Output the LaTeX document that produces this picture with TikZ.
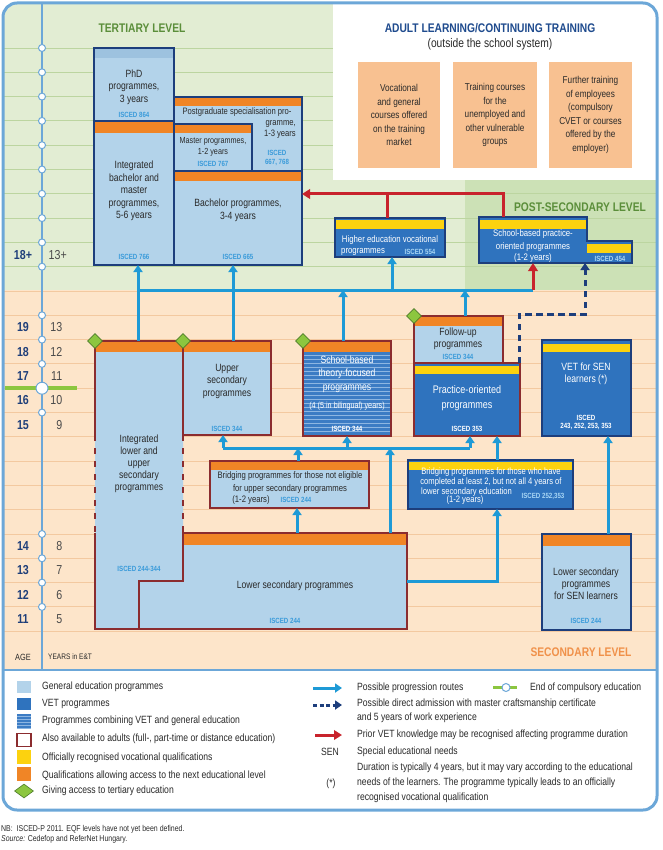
\documentclass[tikz,border=0pt]{standalone}
\usepackage{fontspec}
\setmainfont{Liberation Sans}[FakeStretch=0.82]
\usetikzlibrary{arrows.meta,shapes.geometric,fit}
\definecolor{genblue}{HTML}{B3D3EA}
\definecolor{vetblue}{HTML}{2F73BE}
\definecolor{navy}{HTML}{1D3E7C}
\definecolor{dred}{HTML}{8B2C2F}
\definecolor{orangeband}{HTML}{F08526}
\definecolor{yellowband}{HTML}{FCD20F}
\definecolor{diamondgreen}{HTML}{8CC63F}
\definecolor{diamondedge}{HTML}{4E7D2A}
\definecolor{arrowblue}{HTML}{1E9AD6}
\definecolor{redarrow}{HTML}{C8232C}
\definecolor{bggreen}{HTML}{E2EDD3}
\definecolor{bgpost}{HTML}{CCE1B6}
\definecolor{bgpeach}{HTML}{FDE5CA}
\definecolor{gridgreen}{HTML}{BCD5A0}
\definecolor{gridpeach}{HTML}{F3C9A0}
\definecolor{framebl}{HTML}{6CA7D8}
\definecolor{iscedbl}{HTML}{3A9BDA}
\definecolor{iscedlt}{HTML}{A8D6F5}
\definecolor{adultor}{HTML}{F8C191}
\definecolor{titlegreen}{HTML}{5B8E3A}
\definecolor{titleorange}{HTML}{F0914A}
\definecolor{titleblue}{HTML}{1F4B8E}
\definecolor{txt}{HTML}{2A2A2A}
\definecolor{phdtop}{HTML}{9DC2DF}
\definecolor{stripecol}{HTML}{8DB6E2}
\definecolor{sbtblue}{HTML}{3C7CC4}
\definecolor{agecol}{HTML}{1F3F7A}
\tikzset{
  pfill/.style={inner sep=0pt, outer sep=0pt},
  navyb/.style={draw=navy, line width=2.2pt},
  redb/.style={draw=dred, line width=2.2pt},
  bt/.style={font=\fontsize{10.5}{12.5}\selectfont, align=center, text=txt, inner sep=0pt},
  wt/.style={bt, text=white},
  isc/.style={font=\fontsize{7.5}{8.5}\selectfont\bfseries, text=iscedbl, inner sep=0pt, align=center},
  iscw/.style={isc, text=white},
  iscl/.style={isc, text=iscedlt},
  bline/.style={draw=arrowblue, line width=3pt},
  barrow/.style={bline, -{Triangle[width=9pt,length=7pt]}},
  rline/.style={draw=redarrow, line width=3pt},
  rarrow/.style={rline, -{Triangle[width=9.5pt,length=8pt]}},
  darrow/.style={draw=navy, line width=3pt, dash pattern=on 6.5pt off 4.5pt, -{Triangle[width=9pt,length=7pt]}},
  gdia/.style={diamond, fill=diamondgreen, draw=diamondedge, line width=0.6pt, minimum width=15pt, minimum height=15pt, inner sep=0pt},
  adtxt/.style={font=\fontsize{10}{13.5}\selectfont, align=center, text=txt, inner sep=0pt},
  agen/.style={font=\fontsize{13}{14}\selectfont\bfseries, text=agecol, inner sep=0pt},
  yrn/.style={font=\fontsize{13}{14}\selectfont, text=txt!85, inner sep=0pt, anchor=east},
  legt/.style={font=\fontsize{10.5}{12}\selectfont, text=txt, anchor=west, inner sep=0pt},
  legsq/.style={minimum width=14pt, minimum height=12.5pt, inner sep=0pt},
  lvl/.style={font=\fontsize{12.5}{14}\selectfont\bfseries, inner sep=0pt},
  gridg/.style={draw=gridgreen, line width=0.9pt},
  gridp/.style={draw=gridpeach, line width=0.9pt},
  agecirc/.style={circle, draw=framebl, fill=white, line width=1pt, inner sep=0pt, minimum size=7pt},
}
\begin{document}
\begin{tikzpicture}[x=1pt,y=-1pt]
\useasboundingbox (0,0) rectangle (662,850);
% ---------- backgrounds
\begin{scope}
\clip[rounded corners=14pt] (3,3) rectangle (657,810);
\fill[bggreen] (0,0) rectangle (662,290);
\fill[white] (333,0) rectangle (662,180);
\fill[bgpost] (465,180) rectangle (662,290);
\fill[bgpeach] (0,290) rectangle (662,670);
\fill[white] (0,670) rectangle (662,812);
\foreach \k in {0,1,2,3,4,5} \draw[gridg] (3,{48+24.3*\k}) -- (333,{48+24.3*\k});
\foreach \k in {6,7,8,9} \draw[gridg] (3,{48+24.3*\k}) -- (657,{48+24.3*\k});
\foreach \k in {10,...,24} \draw[gridp] (3,{48+24.3*\k}) -- (657,{48+24.3*\k});
\end{scope}
\draw[framebl, line width=3pt, rounded corners=14pt] (3,3) rectangle (657,810);
\draw[framebl, line width=2.5pt] (3,670) -- (657,670);
% ---------- age axis
\draw[diamondgreen, line width=3.5pt] (5,388.2) -- (77,388.2);
\draw[framebl, line width=2.5pt] (42,3) -- (42,670);
\foreach \k in {0,1,2,3,4,5,6,7,8,9,11,12,13,15,20,21,22,23}
  \node[agecirc] (c\k) at (42,{48+24.3*\k}) {};
\node[agecirc, minimum size=12pt] (c14) at (42,388.2) {};
\node[agen] (a18p) at (23,254.6) {18+};
\node[yrn] (y13p) at (67,254.6) {13+};
\node[agen] (a19) at (23,327.5) {19}; \node[yrn] (y13) at (62.5,327.5) {13};
\node[agen] (a18) at (23,351.8) {18}; \node[yrn] (y12) at (62.5,351.8) {12};
\node[agen] (a17) at (23,376.1) {17}; \node[yrn] (y11) at (62.5,376.1) {11};
\node[agen] (a16) at (23,400.4) {16}; \node[yrn] (y10) at (62.5,400.4) {10};
\node[agen] (a15) at (23,424.7) {15}; \node[yrn] (y9) at (62.5,424.7) {9};
\node[agen] (a14) at (23,546.2) {14}; \node[yrn] (y8) at (62.5,546.2) {8};
\node[agen] (a13) at (23,570.5) {13}; \node[yrn] (y7) at (62.5,570.5) {7};
\node[agen] (a12) at (23,594.8) {12}; \node[yrn] (y6) at (62.5,594.8) {6};
\node[agen] (a11) at (23,619.1) {11}; \node[yrn] (y5) at (62.5,619.1) {5};
\node[font=\fontsize{9}{10}\selectfont, text=txt, inner sep=0pt] (agel) at (23,657) {AGE};
\node[font=\fontsize{8}{9}\selectfont, text=txt, inner sep=0pt, anchor=west] (yrl) at (48,657) {YEARS in E\&T};
% ---------- titles
\node[lvl, text=titlegreen] (tert) at (142,28) {TERTIARY LEVEL};
\node[lvl, text=titleblue] (adult) at (490,28) {ADULT LEARNING/CONTINUING TRAINING};
\node[font=\fontsize{12.5}{14}\selectfont, text=txt, inner sep=0pt] (adults) at (490,44) {(outside the school system)};
\node[lvl, text=titlegreen] (post) at (580,207) {POST-SECONDARY LEVEL};
\node[lvl, text=titleorange] (sec) at (581,652) {SECONDARY LEVEL};
% ---------- adult boxes
\node[pfill, fill=adultor, fit={(358,62)(440,168)}] (av) {};
\node[adtxt] (avt) at (av.center) {Vocational\\and general\\courses offered\\on the training\\market};
\node[pfill, fill=adultor, fit={(453,62)(537,168)}] (au) {};
\node[adtxt] (aut) at (au.center) {Training courses\\for the\\unemployed and\\other vulnerable\\groups};
\node[pfill, fill=adultor, fit={(549,62)(632,168)}] (ae) {};
\node[adtxt] (aet) at (ae.center) {Further training\\of employees\\(compulsory\\CVET or courses\\offered by the\\employer)};
% ---------- tertiary
\node[pfill, fill=genblue, fit={(94,48)(174,121)}] (phd) {};
\fill[phdtop] (95.1,49.1) rectangle (172.9,58.5);
\draw[navyb] (phd.north west) rectangle (phd.south east);
\node[bt] (phdt) at (134,87) {PhD\\programmes,\\3 years};
\node[isc] (phdi) at (134,115) {ISCED 864};

\node[pfill, fill=genblue, fit={(94,121)(174,265)}] (intba) {};
\fill[orangeband] (95.1,122.1) rectangle (172.9,133);
\draw[navyb] (intba.north west) rectangle (intba.south east);
\node[bt] (intbat) at (134,191) {Integrated\\bachelor and\\master\\programmes,\\5-6 years};
\node[isc] (intbai) at (134,257) {ISCED 766};

\node[pfill, fill=genblue, fit={(174,97)(302,171)}] (pgs) {};
\fill[orangeband] (175.1,98.1) rectangle (300.9,106);
\draw[navyb] (pgs.north west) rectangle (pgs.south east);
\node[bt, font=\fontsize{9.3}{11}\selectfont] (pgst1) at (237,112) {Postgraduate specialisation pro-};
\node[bt, font=\fontsize{9.3}{11}\selectfont, align=right, anchor=east] (pgst2) at (296,129.5) {gramme,\\1-3 years};
\node[isc] (pgsi) at (277,158) {ISCED\\667, 768};

\node[pfill, fill=genblue, fit={(174,124)(252,171)}] (mas) {};
\fill[orangeband] (175.1,125.1) rectangle (250.9,133);
\draw[navyb] (mas.north west) rectangle (mas.south east);
\node[bt, font=\fontsize{8.8}{11.5}\selectfont] (mast) at (213,147) {Master programmes,\\1-2 years};
\node[isc] (masi) at (213,163.5) {ISCED 767};

\node[pfill, fill=genblue, fit={(174,171)(302,265)}] (bach) {};
\fill[orangeband] (175.1,172.1) rectangle (300.9,181);
\draw[navyb] (bach.north west) rectangle (bach.south east);
\node[bt] (bacht) at (238,210.5) {Bachelor programmes,\\3-4 years};
\node[isc] (bachi) at (238,257) {ISCED 665};
% ---------- post-secondary
\node[pfill, fill=vetblue, fit={(335,218)(445,257)}] (he) {};
\fill[yellowband] (336.1,220.2) rectangle (443.9,229);
\draw[navyb] (he.north west) rectangle (he.south east);
\node[wt, font=\fontsize{9.5}{11}\selectfont] (het1) at (390,240) {Higher education vocational};
\node[wt, font=\fontsize{9.5}{11}\selectfont, anchor=west] (het2) at (341,252) {programmes};
\node[iscl] (hei) at (420,252) {ISCED 554};

\node[pfill, fit={(479,217)(632,263)}] (sbp) {};
\fill[vetblue] (479,217) -- (587,217) -- (587,241) -- (632,241) -- (632,263) -- (479,263) -- cycle;
\fill[yellowband] (480.1,220.2) rectangle (585.9,229);
\fill[yellowband] (587,244) rectangle (630.9,252.5);
\draw[navyb] (479,217) -- (587,217) -- (587,241) -- (632,241) -- (632,263) -- (479,263) -- cycle;
\node[wt, font=\fontsize{9.5}{11}\selectfont] (sbpt1) at (533,234) {School-based practice-};
\node[wt, font=\fontsize{9.5}{11}\selectfont] (sbpt2) at (533,246.7) {oriented programmes};
\node[wt, font=\fontsize{9.5}{11}\selectfont] (sbpt3) at (533,258.5) {(1-2 years)};
\node[iscl] (sbpi) at (610,258.5) {ISCED 454};
% red connector
\draw[rarrow] (503,0 |- sbp.north) -- (503,194) -- (bach.east |- 0,194);
\draw[rline] (387,194) -- (387,0 |- he.north);
% ---------- secondary
\node[pfill, fit={(95,341)(183,629)}] (ils) {};
\fill[genblue] (95,341) -- (183,341) -- (183,581) -- (139,581) -- (139,629) -- (95,629) -- cycle;
\fill[orangeband] (96.1,342.1) rectangle (181.9,352);

\node[pfill, fit={(139,533)(407,629)}] (lsec) {};
\fill[genblue] (183,533) -- (407,533) -- (407,629) -- (139,629) -- (139,581) -- (183,581) -- cycle;
\fill[orangeband] (184.1,534.1) rectangle (405.9,545);
\draw[redb] (183,533) -- (407,533) -- (407,629) -- (139,629) -- (139,581) -- (183,581) -- cycle;
\draw[redb] (95,435) -- (95,341) -- (183,341);
\draw[redb, dash pattern=on 6pt off 7pt] (95,435) -- (95,533);
\draw[redb, dash pattern=on 6pt off 7pt] (183,435) -- (183,533);
\draw[redb] (95,533) -- (95,629) -- (139,629);
\node[bt, font=\fontsize{10.5}{12}\selectfont] (ilst) at (139,464) {Integrated\\lower and\\upper\\secondary\\programmes};
\node[isc] (ilsi) at (139,569) {ISCED 244-344};
\node[bt] (lsect) at (295,586) {Lower secondary programmes};
\node[isc] (lseci) at (285,621) {ISCED 244};

\node[pfill, fill=genblue, fit={(183,341)(271,435)}] (ups) {};
\fill[orangeband] (184.1,342.1) rectangle (269.9,352);
\draw[redb] (ups.north west) rectangle (ups.south east);
\node[bt] (upst) at (227,381) {Upper\\secondary\\programmes};
\node[isc] (upsi) at (227,429) {ISCED 344};

\node[pfill, fill=sbtblue, fit={(303,341)(391,436)}] (sbt) {};
\foreach \yy in {355,359,...,435} \draw[stripecol, line width=0.9pt] (304,\yy) -- (390,\yy);
\fill[orangeband] (304.1,342.1) rectangle (389.9,352);
\draw[redb] (sbt.north west) rectangle (sbt.south east);
\node[wt, font=\fontsize{10.5}{13.5}\selectfont] (sbtt) at (347,374) {School-based\\theory-focused\\programmes};
\node[wt, font=\fontsize{8.8}{10}\selectfont] (sbtt2) at (347,406) {(4 (5 in bilingual) years)};
\node[iscw] (sbti) at (347,429) {ISCED 344};

\node[pfill, fill=genblue, fit={(414,316)(503,363)}] (fol) {};
\fill[orangeband] (415.1,317.1) rectangle (501.9,326);
\draw[redb] (fol.north west) rectangle (fol.south east);
\node[bt] (folt) at (458,339) {Follow-up\\programmes};
\node[isc] (foli) at (458,357) {ISCED 344};

\node[pfill, fill=vetblue, fit={(414,363)(520,436)}] (pra) {};
\fill[yellowband] (415.1,365.5) rectangle (518.9,374);
\draw[redb] (pra.north west) rectangle (pra.south east);
\node[wt, font=\fontsize{11}{15.5}\selectfont] (prat) at (467,398.3) {Practice-oriented\\programmes};
\node[iscw] (prai) at (467,429) {ISCED 353};

\node[pfill, fill=vetblue, fit={(542,340)(631,436)}] (vsen) {};
\fill[yellowband] (543.1,343.5) rectangle (629.9,352);
\draw[navyb] (vsen.north west) rectangle (vsen.south east);
\node[wt] (vsent) at (586,374) {VET for SEN\\learners (*)};
\node[iscw] (vseni) at (586,422.5) {ISCED\\243, 252, 253, 353};

\node[pfill, fill=genblue, fit={(210,461)(369,508)}] (br1) {};
\fill[orangeband] (211.1,462.1) rectangle (367.9,470);
\draw[redb] (br1.north west) rectangle (br1.south east);
\node[bt, font=\fontsize{9.4}{12.5}\selectfont] (br1t) at (290,482.5) {Bridging programmes for those not eligible\\for upper secondary programmes};
\node[bt, font=\fontsize{9.4}{12.5}\selectfont] (br1t2) at (251,500) {(1-2 years)};
\node[isc] (br1i) at (296,500) {ISCED 244};

\node[pfill, fill=vetblue, fit={(408,460)(573,509)}] (br2) {};
\fill[yellowband] (409.1,462) rectangle (571.9,470);
\draw[navyb] (br2.north west) rectangle (br2.south east);
\node[wt, font=\fontsize{9.3}{9.5}\selectfont] (br2t) at (491,477) {Bridging programmes for those who have\\completed at least 2, but not all 4 years of};
\node[wt, font=\fontsize{9.3}{9.5}\selectfont, anchor=west] (br2t2) at (421,492) {lower secondary education};
\node[wt, font=\fontsize{9.3}{9.5}\selectfont] (br2t3) at (465,500.5) {(1-2 years)};
\node[iscl] (br2i) at (543,496.7) {ISCED 252,353};

\node[pfill, fill=genblue, fit={(542,534)(631,630)}] (lsen) {};
\fill[orangeband] (543.1,535.1) rectangle (629.9,546);
\draw[navyb] (lsen.north west) rectangle (lsen.south east);
\node[bt, font=\fontsize{10.5}{12.2}\selectfont] (lsent) at (586,583.5) {Lower secondary\\programmes\\for SEN learners};
\node[isc] (lseni) at (586,621) {ISCED 244};
% ---------- blue connectors
\coordinate (hl) at (138,290);
\coordinate (hr) at (533,290);
\draw[bline] (hl) -- (hr);
\draw[barrow] (138,0 |- ils.north) -- (138,0 |- intba.south);
\draw[barrow] (233,0 |- ups.north) -- (233,0 |- bach.south);
\draw[barrow] (392,290) -- (392,0 |- he.south);
\draw[barrow] (343,0 |- sbt.north) -- (343,290);
\draw[barrow] (465,0 |- fol.north) -- (465,290);
\draw[rarrow] (hr) -- (533,0 |- sbp.south);
\draw[darrow] (519,0 |- pra.north) -- (519,314) -- (585,314) -- (585,0 |- sbp.south);

\coordinate (h2l) at (223,448);
\coordinate (h2r) at (470,448);
\draw[bline] (h2l) -- (h2r);
\draw[barrow] (h2l) -- (223,0 |- ups.south);
\draw[barrow] (347,448) -- (347,0 |- sbt.south);
\draw[barrow] (h2r) -- (470,0 |- pra.south);
\draw[barrow] (298,0 |- br1.north) -- (298,448);
\draw[barrow] (390,0 |- lsec.north) -- (390,448);
\draw[barrow] (297,0 |- lsec.north) -- (297,0 |- br1.south);
\draw[barrow] (lsec.east |- 0,581) -- (497,581) -- (497,0 |- br2.south);
\draw[barrow] (497,0 |- br2.north) -- (497,0 |- pra.south);
\draw[barrow] (608,0 |- lsen.north) -- (608,0 |- vsen.south);
% ---------- diamonds
\node[gdia] (d1) at (95,341) {};
\node[gdia] (d2) at (183,341) {};
\node[gdia] (d3) at (303,341) {};
\node[gdia] (d4) at (414,316) {};
% ---------- legend left
\node[legsq, fill=genblue] (lg1) at (24,687) {};
\node[legt] (lg1t) at (42,687) {General education programmes};
\node[legsq, fill=vetblue] (lg2) at (24,704) {};
\node[legt] (lg2t) at (42,704) {VET programmes};
\node[legsq, fill=sbtblue, minimum height=14pt] (lg3) at (24,721) {};
\foreach \yy in {716,719,...,728} \draw[stripecol, line width=0.8pt] (lg3.west |- 0,\yy) -- (lg3.east |- 0,\yy);
\node[legt] (lg3t) at (42,721) {Programmes combining VET and general education};
\node[legsq, fill=white, draw=dred, line width=1.3pt] (lg4) at (24,740) {};
\node[legt] (lg4t) at (42,739) {Also available to adults (full-, part-time or distance education)};
\node[legsq, fill=yellowband, minimum height=14pt] (lg5) at (24,756.5) {};
\node[legt] (lg5t) at (42,757.5) {Officially recognised vocational qualifications};
\node[legsq, fill=orangeband, minimum height=14pt] (lg6) at (24,774) {};
\node[legt] (lg6t) at (42,776) {Qualifications allowing access to the next educational level};
\node[gdia, minimum width=19pt, minimum height=14pt] (lg7) at (24,791) {};
\node[legt] (lg7t) at (42,791) {Giving access to tertiary education};
% ---------- legend right
\coordinate (lr1a) at (313,688); \coordinate (lr1b) at (342,688);
\draw[barrow] (lr1a) -- (lr1b);
\node[legt] (lr1t) at (357,687.5) {Possible progression routes};
\coordinate (lgca) at (493,687.5); \coordinate (lgcb) at (517,687.5);
\draw[diamondgreen, line width=3pt] (lgca) -- (lgcb);
\node[agecirc, minimum size=8pt] (lgc) at (506,687.5) {};
\node[legt] (lgct) at (530,687.5) {End of compulsory education};
\coordinate (lr2a) at (313,705); \coordinate (lr2b) at (342,705);
\draw[darrow, dash pattern=on 4pt off 2.5pt] (lr2a) -- (lr2b);
\node[legt] (lr2t) at (357,704) {Possible direct admission with master craftsmanship certificate};
\node[legt] (lr2t2) at (357,718) {and 5 years of work experience};
\coordinate (lr3a) at (315,735); \coordinate (lr3b) at (342,735);
\draw[rarrow] (lr3a) -- (lr3b);
\node[legt] (lr3t) at (357,735) {Prior VET knowledge may be recognised affecting programme duration};
\node[font=\fontsize{10.5}{12}\selectfont, text=txt, inner sep=0pt] (lsen0) at (330,752) {SEN};
\node[legt] (lr4t) at (357,752) {Special educational needs};
\node[font=\fontsize{10.5}{12}\selectfont, text=txt, inner sep=0pt] (lstar) at (331,784) {(*)};
\node[legt, align=left, font=\fontsize{10.5}{14.8}\selectfont] (lr5t) at (357,783) {Duration is typically 4 years, but it may vary according to the educational\\needs of the learners. The programme typically leads to an officially\\recognised vocational qualification};
% ---------- footer
\node[font=\fontsize{8.5}{9}\selectfont, text=txt, anchor=west, inner sep=0pt] (nb) at (1,829) {NB:\ \ ISCED-P 2011. EQF levels have not yet been defined.};
\node[font=\fontsize{8.5}{9}\selectfont, text=txt, anchor=west, inner sep=0pt] (src) at (1,839.5) {\textit{Source:} Cedefop and ReferNet Hungary.};
\end{tikzpicture}
\end{document}
